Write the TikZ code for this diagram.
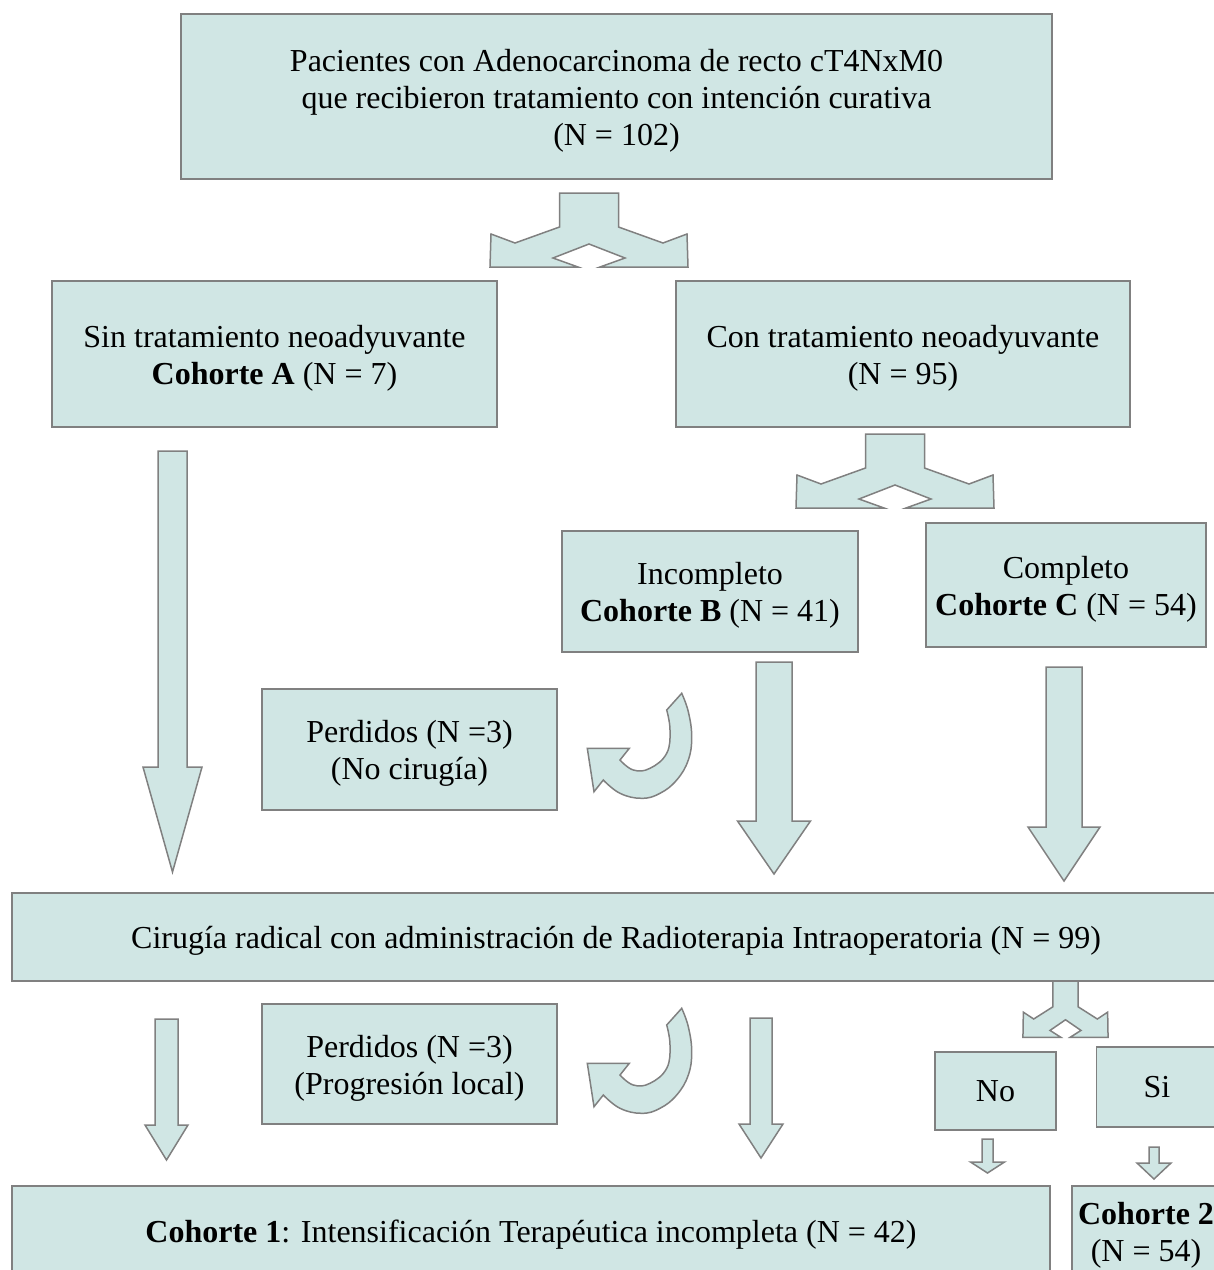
\documentclass[tikz,border=0pt]{standalone}
\usepackage{fontspec}
\setmainfont{Liberation Serif}
\usetikzlibrary{positioning}
\definecolor{BX}{RGB}{208,230,228}
\definecolor{BD}{RGB}{128,128,128}
% strut for the first text line
\newcommand\topstrut{\rule{0pt}{30pt}}
\tikzset{
  % flow box
  cbox/.style={
    draw=BD, fill=BX, line width=1.5pt,
    align=center, inner sep=0pt,
    font=\fontsize{32}{37}\selectfont
  },
  % block arrow shapes
  shp/.style={draw=BD, fill=BX, line width=1.5pt, line join=miter},
  pics/splitarr/.style={code={
    \draw[shp] (-29.5,0) -- (29.5,0) -- (29.5,34) -- (74,50) -- (98,41)
      -- (99,74) -- (11,74) -- (36,65) -- (0,51) -- (-36,65) -- (-11,74)
      -- (-99,74) -- (-98,41) -- (-74,50) -- (-29.5,34) -- cycle;
  }},
  pics/downarr/.style n args={4}{code={
    \draw[shp] (-#1,0) -- (#1,0) -- (#1,#2) -- (#3,#2) -- (0,#4)
      -- (-#3,#2) -- (-#1,#2) -- cycle;
  }},
  pics/turnarr/.style={code={
    \draw[shp] (41.7,-51.7)
      -- plot[smooth, tension=0.7] coordinates {(41.7,-51.7) (48.3,-33.3)
        (51.7,-8.3) (48.3,15) (36.7,35) (20,48.3) (1.7,53.3) (-20,48.3)
        (-36.7,35)}
      -- (-46,46.7) -- (-52.7,3.3) -- (-10.7,3.3) -- (-20,15)
      -- plot[smooth, tension=0.7] coordinates {(-20,15) (-6.7,25)
        (10,23.3) (26.7,8.3) (30,-15) (26.7,-35)}
      -- cycle;
  }},
}

\begin{document}
\begin{tikzpicture}[x=1pt, y=-1pt]
\useasboundingbox (0,0) rectangle (1214,1270);
\clip (0,0) rectangle (1214,1270);

% -- boxes ---------------------------------------------------------------
\node[cbox, minimum width=871pt, minimum height=165pt] (pac) at (616.5,96.5)
  {\topstrut Pacientes con Adenocarcinoma de recto cT4NxM0\\
   que recibieron tratamiento con intención curativa\\(N = 102)};
\node[cbox, minimum width=445pt, minimum height=146pt] (sinA) at (274.5,354)
  {\topstrut Sin tratamiento neoadyuvante\\\textbf{Cohorte A} (N = 7)};
\node[cbox, minimum width=454pt, minimum height=146pt] (conT) at (903,354)
  {\topstrut Con tratamiento neoadyuvante\\(N = 95)};
\node[cbox, minimum width=296pt, minimum height=121pt] (incB) at (710,591.5)
  {\topstrut Incompleto\\\textbf{Cohorte B} (N = 41)};
\node[cbox, minimum width=280pt, minimum height=124pt] (comC) at (1066,585)
  {\topstrut Completo\\\textbf{Cohorte C} (N = 54)};
\node[cbox, minimum width=295pt, minimum height=121pt] (perdA) at (409.5,749.5)
  {\topstrut Perdidos (N =3)\\(No cirugía)};
\node[cbox, minimum width=1208pt, minimum height=88pt] (cir) at (616,937)
  {\topstrut Cirugía radical con administración de Radioterapia Intraoperatoria (N = 99)};
\node[cbox, minimum width=295pt, minimum height=120pt] (perdB) at (409.5,1064)
  {\topstrut Perdidos (N =3)\\(Progresión local)};
\node[cbox, minimum width=121pt, minimum height=78pt] (no) at (995.5,1091) {No};
\node[cbox, minimum width=121pt, minimum height=80pt] (si) at (1157,1087) {Si};
\node[cbox, minimum width=1038pt, minimum height=90pt] (coh1) at (531,1231)
  {\topstrut\textbf{Cohorte 1}: Intensificación Terapéutica incompleta (N = 42)};
\node[cbox, minimum width=148pt, minimum height=90pt] (coh2) at (1146,1231)
  {\topstrut\textbf{Cohorte 2}\\(N = 54)};

% -- split arrows --------------------------------------------------------
\pic at (589,193) {splitarr};
\pic at (895,434) {splitarr};
\pic[xscale=0.43, yscale=0.76] at (1065.5,981) {splitarr};

% -- down arrows ---------------------------------------------------------
\pic at (172.5,451) {downarr={14.5}{316}{29.5}{421}};
\pic at (774,662) {downarr={18}{159}{36.5}{212}};
\pic at (1064,667) {downarr={18}{160}{36}{214}};
\pic at (166.5,1019) {downarr={11.5}{106}{21.5}{141}};
\pic at (761,1018) {downarr={11}{106}{22}{140}};
\pic at (987.5,1139) {downarr={5.5}{23}{17}{34}};
\pic at (1154,1147) {downarr={5}{16}{17}{32}};

% -- turning arrows (losses) ---------------------------------------------
\pic at (640,745) {turnarr};
\pic at (640,1060) {turnarr};

\end{tikzpicture}
\end{document}
